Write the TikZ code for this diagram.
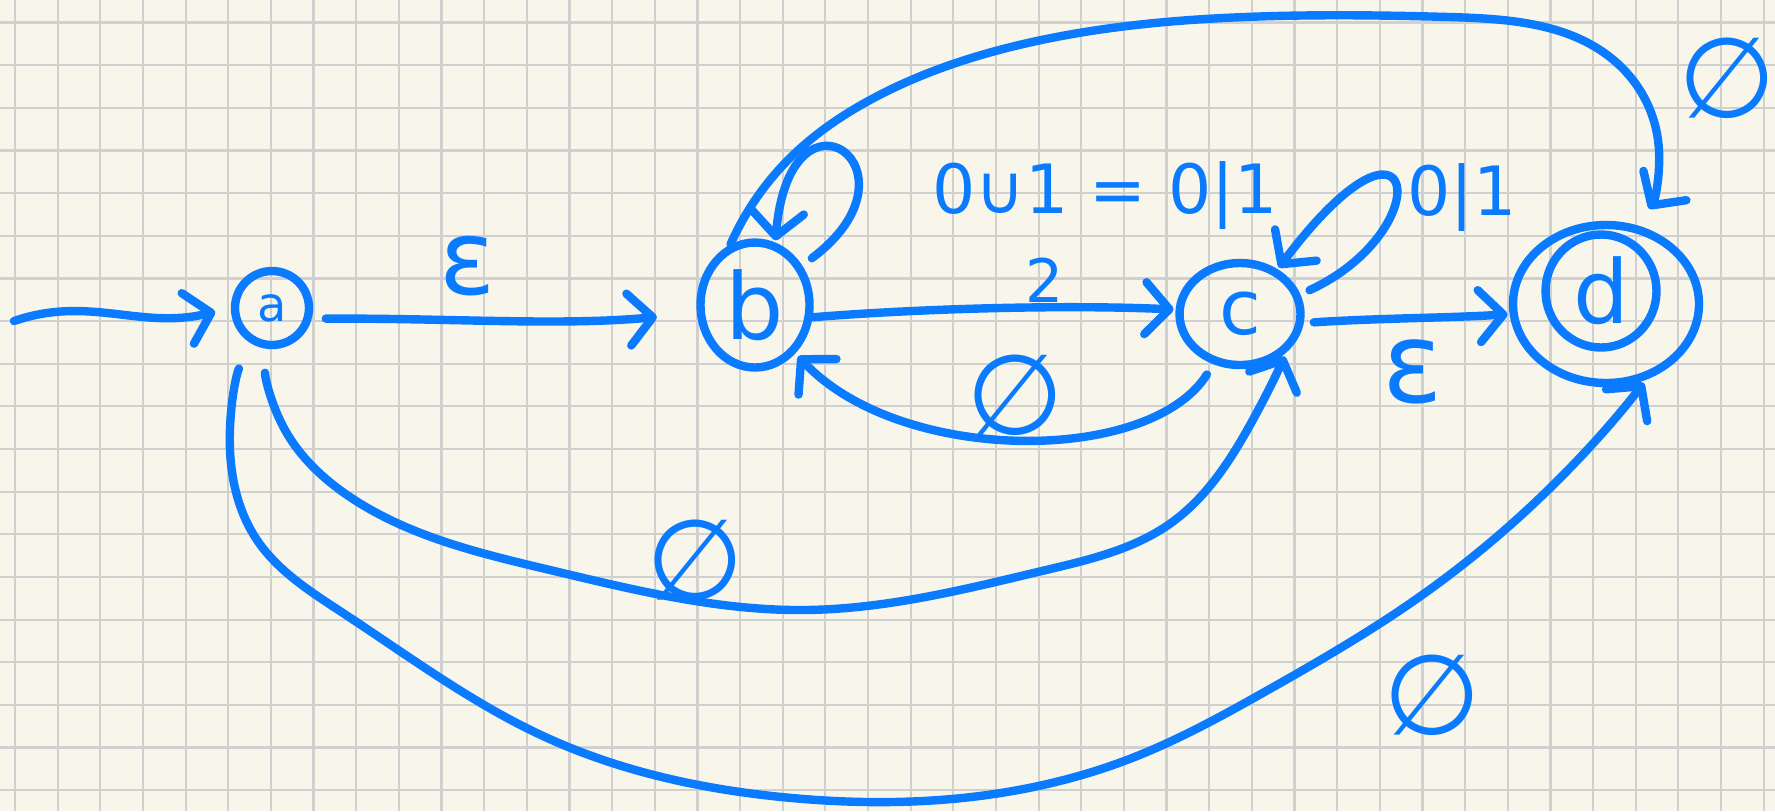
\documentclass[tikz,border=0pt]{standalone}
\usepackage{fontspec}
\setmainfont{DejaVu Sans}
\usetikzlibrary{arrows.meta,shapes.geometric,hobby}
\definecolor{ink}{RGB}{10,122,255}
\definecolor{paper}{HTML}{F8F6EA}
\definecolor{gridline}{HTML}{D0D0D0}
\newcommand{\fsz}[1]{\fontsize{#1}{#1}\selectfont}
\begin{document}
\begin{tikzpicture}[x=0.5pt, y=-0.5pt,
  state/.style={ellipse, draw=ink, line width=4.2pt, inner sep=0pt, text=ink},
  edge/.style={draw=ink, line width=4.2pt, line cap=round, line join=round,
    -{Straight Barb[length=12pt,width=26pt,round]}},
  lab/.style={text=ink, inner sep=0pt},
  gridrule/.style={draw=gridline, line width=1.1pt}]
\useasboundingbox (0,0) rectangle (1775,811);
\fill[paper] (0,0) rectangle (1775,811);
\foreach \i in {0,...,41} \draw[gridrule] ({15+42.65*\i},0) -- ({15+42.65*\i},811);
\foreach \j in {0,...,18} \draw[gridrule] (0,{22.5+42.65*\j}) -- (1775,{22.5+42.65*\j});

% states
\node[state, minimum width=37pt, minimum height=37pt, font=\fsz{24}] (a) at (272,308) {a};
\node[state, minimum width=54.5pt, minimum height=62.5pt, font=\fsz{46}] (b) at (755,305) {b};
\node[state, minimum width=60.5pt, minimum height=51pt, font=\fsz{38}] (c) at (1240,314) {c};
\node[state, minimum width=93pt, minimum height=79pt] (d) at (1606,304) {};
\node[state, minimum width=55.5pt, minimum height=56.5pt, font=\fsz{44}] (dIn) at (1601,291) {d};

% initial arrow
\coordinate (s0) at (14,321);
\draw[edge, shorten >=8pt] (s0) .. controls (90,295) and (140,330) .. (a.west);

% transitions
\draw[edge, shorten <=7pt, shorten >=20pt] (a.-15) .. controls (450,318) and (560,326) .. (b.188);
\draw[edge, shorten >=1pt] (b.-12) .. controls (900,310) and (1050,304) .. (c.176);
\draw[edge, shorten <=5pt, shorten >=1pt] (c.-8) .. controls (1380,318) and (1450,318) .. (d.186);
\draw[edge, shorten <=6pt, shorten >=2pt] (c.-118) .. controls (1150,465) and (900,465) .. (b.-50);
\draw[edge, use Hobby shortcut, shorten >=10pt] (b.112) .. (790,158) .. (870,100) .. (1019,45) .. (1245,17) .. (1449,17) .. (1617,63) .. (1658,140) .. (d.68);
\draw[edge, use Hobby shortcut, shorten <=12pt, shorten >=2pt] (a.-98) .. (285,430) .. (350,497) .. (550,570) .. (805,610) .. (1046,570) .. (1171,523) .. (1250,425) .. (c.-40);
\draw[edge, use Hobby shortcut, shorten <=14pt, shorten >=2pt] (a.-122) .. (230,450) .. (257,540) .. (343,613) .. (543,736) .. (792,798) .. (962,798) .. (1132,758) .. (1268,690) .. (1415,600) .. (1528,509) .. (d.-62);

% self loops
\draw[edge, shorten <=6pt, shorten >=1pt] (b.40) .. controls (930,170) and (790,70) .. (b.72);
\draw[edge, shorten <=5pt, shorten >=1pt] (c.18) .. controls (1440,230) and (1420,80) .. (c.50);

% labels
\node[lab, font=\fsz{52}] (e1) at (468,266) {ε};
\node[lab, font=\fsz{30}] (l2) at (1045,280) {2};
\node[lab, font=\fsz{56}] (e2) at (1413,372) {ε};
\node[lab, font=\fsz{34}] (lb) at (1105,196) {0∪1 = 0|1};
\node[lab, font=\fsz{34}] (lc) at (1462,198) {0|1};
\node[lab, font=\fsz{56}] (n1) at (1727,78) {∅};
\node[lab, font=\fsz{56}] (n2) at (1015,395) {∅};
\node[lab, font=\fsz{56}] (n3) at (695,560) {∅};
\node[lab, font=\fsz{56}] (n4) at (1432,695) {∅};
\end{tikzpicture}
\end{document}
